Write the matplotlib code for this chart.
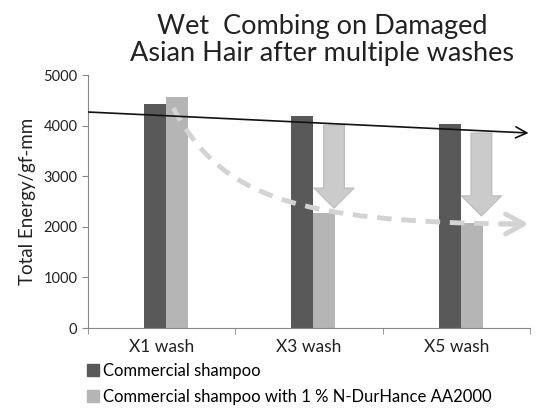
import numpy as np
import matplotlib
matplotlib.use('Agg')
import matplotlib.pyplot as plt
from matplotlib.patches import FancyArrowPatch, PathPatch
from matplotlib.path import Path
from matplotlib.lines import Line2D

# ── data ─────────────────────────────────────────────────────────────────────
CATEGORIES = ['X1 wash', 'X3 wash', 'X5 wash']
COMMERCIAL = [4430, 4200, 4030]
DURHANCE   = [4560, 2280, 2080]
SERIES_NAMES = ['Commercial shampoo',
                'Commercial shampoo with 1 % N-DurHance AA2000']

DARK  = '#595959'
LIGHT = '#b5b5b5'
ARROW = '#cbcbcb'

plt.rcParams['font.family'] = ['Lato', 'DejaVu Sans']

fig = plt.figure(figsize=(5.42, 4.08), dpi=100)
ax = fig.add_axes([0.162, 0.196, 0.816, 0.620])

x = np.arange(len(CATEGORIES))
w = 0.15
ax.bar(x - w / 2 + 0.03, COMMERCIAL, w, color=DARK, zorder=2)
ax.bar(x + w / 2 + 0.03, DURHANCE, w, color=LIGHT, zorder=2)

ax.set_xlim(-0.5, 2.5)
ax.set_ylim(0, 5000)
ax.set_yticks(range(0, 5001, 1000))
ax.set_xticks(x)
ax.set_xticklabels(CATEGORIES, fontsize=12.5)
ax.set_xticks([-0.5, 0.5, 1.5, 2.5], minor=True)
ax.tick_params(axis='x', which='major', length=0, pad=8, colors='#222222')
ax.tick_params(axis='x', which='minor', length=4, color='#888888')
ax.tick_params(axis='y', length=4, color='#888888', labelcolor='#222222',
               labelsize=10.5)
for s in ['top', 'right']:
    ax.spines[s].set_visible(False)
for s in ['left', 'bottom']:
    ax.spines[s].set_color('#888888')
ax.set_ylabel('Total Energy/gf-mm', fontsize=13.5, color='#222222', labelpad=5)

# black trend arrow across the top
ax.add_patch(FancyArrowPatch((-0.5, 4270), (2.49, 3855),
                             arrowstyle='->,head_length=0.8,head_width=0.4',
                             mutation_scale=10, lw=1.2, color='#111111',
                             shrinkA=0, shrinkB=0, zorder=4))

# dashed grey decay curve
verts = [(0.08, 4350), (0.4, 2600), (0.9, 2100), (2.40, 2055)]
curve = Path(verts, [Path.MOVETO, Path.CURVE4, Path.CURVE4, Path.CURVE4])
ax.add_patch(PathPatch(curve, fill=False, lw=3.5, ls=(0, (3, 2)),
                       edgecolor='#d3d3d3', zorder=3, capstyle='butt'))
ax.add_patch(FancyArrowPatch((2.3, 2057), (2.49, 2055),
                             arrowstyle='->,head_length=1.3,head_width=0.72',
                             mutation_scale=10, lw=3.5, color='#d3d3d3',
                             shrinkA=0, shrinkB=0, zorder=3))

# block down-arrows
for xc, y0, y1 in [(1.17, 4010, 2370), (2.17, 3855, 2215)]:
    ax.add_patch(FancyArrowPatch((xc, y0), (xc, y1),
                                 arrowstyle='simple,head_length=1.45,head_width=2.9,tail_width=1.5',
                                 mutation_scale=10, facecolor=ARROW,
                                 edgecolor='#bbbbbb', lw=0.8,
                                 shrinkA=0, shrinkB=0, zorder=3))

fig.text(0.595, 0.965, 'Wet  Combing on Damaged\nAsian Hair after multiple washes',
         ha='center', va='top', fontsize=19.5, color='#222222', linespacing=1.1)

handles = [Line2D([], [], marker='s', ls='', markersize=8, color=DARK),
           Line2D([], [], marker='s', ls='', markersize=8, color=LIGHT)]
fig.legend(handles, SERIES_NAMES, loc='upper left', bbox_to_anchor=(0.157, 0.11),
           frameon=False, fontsize=12, handletextpad=0.1, labelspacing=0.6,
           handlelength=1.0, borderaxespad=0, borderpad=0)

fig.savefig('out.png', dpi=100, facecolor='white')
